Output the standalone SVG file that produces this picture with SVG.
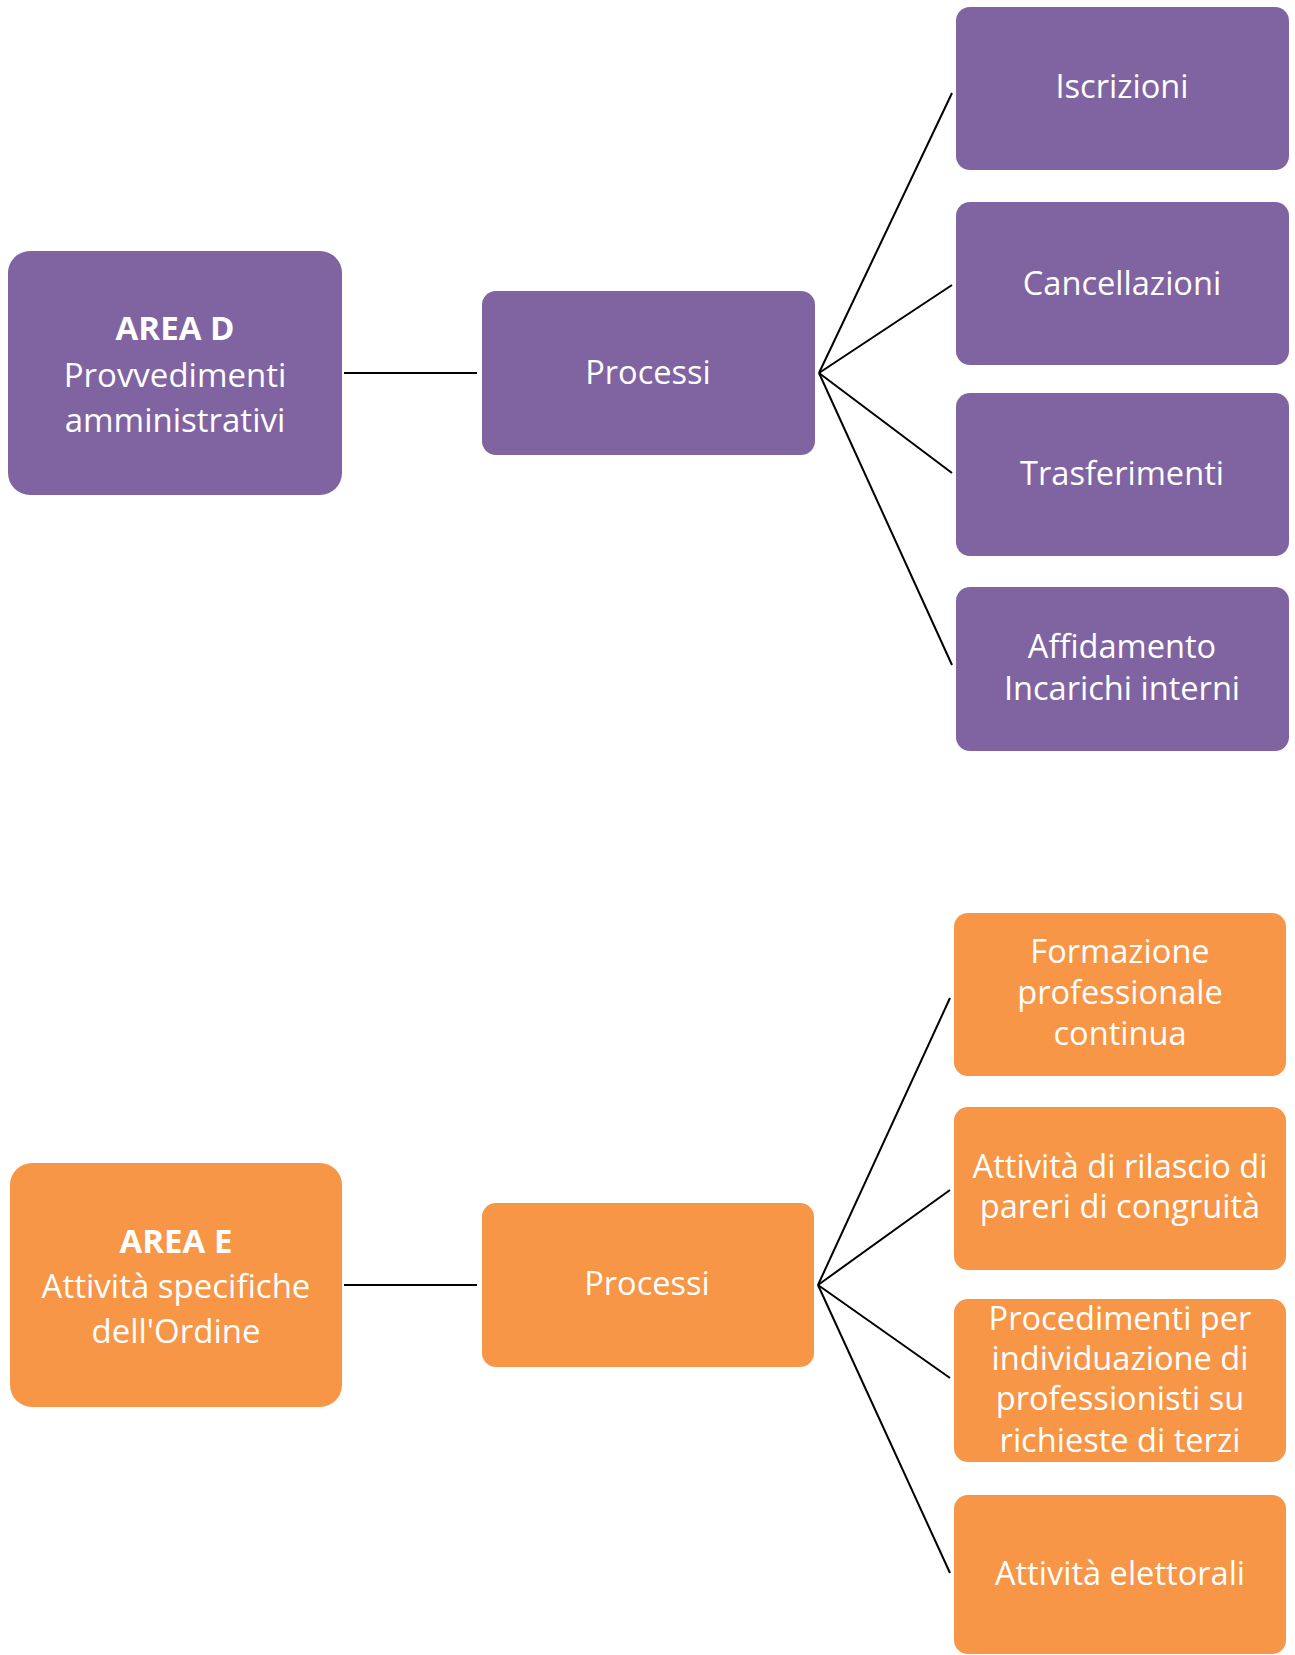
<svg xmlns="http://www.w3.org/2000/svg" width="1295" height="1655" viewBox="0 0 1295 1655">
<style>
.d{fill:#8064A2}
.e{fill:#F79646}
.t{font-family:"Open Sans","Liberation Sans",sans-serif;font-size:32.6px;fill:#ffffff;text-anchor:middle}
.a{font-size:33px}
.b{font-weight:bold}
.c{stroke:#000000;stroke-width:2;fill:none}
</style>
<rect width="1295" height="1655" fill="#ffffff"/>
<g id="connectors">
<line class="c" x1="344" y1="373" x2="477" y2="373"/>
<line class="c" x1="819" y1="373" x2="952" y2="93"/>
<line class="c" x1="819" y1="373" x2="952" y2="285"/>
<line class="c" x1="819" y1="373" x2="952" y2="473"/>
<line class="c" x1="819" y1="373" x2="952" y2="665"/>
<line class="c" x1="344" y1="1285" x2="477" y2="1285"/>
<line class="c" x1="818" y1="1285" x2="950" y2="998"/>
<line class="c" x1="818" y1="1285" x2="950" y2="1190"/>
<line class="c" x1="818" y1="1285" x2="950" y2="1378"/>
<line class="c" x1="818" y1="1285" x2="950" y2="1573"/>
</g>
<g id="areaD">
<rect class="d" x="8" y="251" width="334" height="244" rx="22"/>
<text class="t a b" x="175" y="340">AREA D</text>
<text class="t a" x="175" y="387">Provvedimenti</text>
<text class="t a" x="175" y="432">amministrativi</text>
</g>
<g id="processiD">
<rect class="d" x="482" y="291" width="333" height="164" rx="14"/>
<text class="t" x="648" y="384">Processi</text>
</g>
<g id="iscrizioni">
<rect class="d" x="956" y="7" width="333" height="163" rx="14"/>
<text class="t" x="1122" y="98">Iscrizioni</text>
</g>
<g id="cancellazioni">
<rect class="d" x="956" y="202" width="333" height="163" rx="14"/>
<text class="t" x="1122" y="295">Cancellazioni</text>
</g>
<g id="trasferimenti">
<rect class="d" x="956" y="393" width="333" height="163" rx="14"/>
<text class="t" x="1122" y="485">Trasferimenti</text>
</g>
<g id="affidamento">
<rect class="d" x="956" y="587" width="333" height="164" rx="14"/>
<text class="t" x="1122" y="658">Affidamento</text>
<text class="t" x="1122" y="700">Incarichi interni</text>
</g>
<g id="areaE">
<rect class="e" x="10" y="1163" width="332" height="244" rx="22"/>
<text class="t a b" x="176" y="1253">AREA E</text>
<text class="t a" x="176" y="1298">Attività specifiche</text>
<text class="t a" x="176" y="1343">dell'Ordine</text>
</g>
<g id="processiE">
<rect class="e" x="482" y="1203" width="332" height="164" rx="14"/>
<text class="t" x="647" y="1295">Processi</text>
</g>
<g id="formazione">
<rect class="e" x="954" y="913" width="332" height="163" rx="14"/>
<text class="t" x="1120" y="963">Formazione</text>
<text class="t" x="1120" y="1004">professionale</text>
<text class="t" x="1120" y="1045">continua</text>
</g>
<g id="pareri">
<rect class="e" x="954" y="1107" width="332" height="163" rx="14"/>
<text class="t" x="1120" y="1178">Attività di rilascio di</text>
<text class="t" x="1120" y="1218">pareri di congruità</text>
</g>
<g id="procedimenti">
<rect class="e" x="954" y="1299" width="332" height="163" rx="14"/>
<text class="t" x="1120" y="1330">Procedimenti per</text>
<text class="t" x="1120" y="1370">individuazione di</text>
<text class="t" x="1120" y="1410">professionisti su</text>
<text class="t" x="1120" y="1452">richieste di terzi</text>
</g>
<g id="elettorali">
<rect class="e" x="954" y="1495" width="332" height="159" rx="14"/>
<text class="t" x="1120" y="1585">Attività elettorali</text>
</g>
</svg>
